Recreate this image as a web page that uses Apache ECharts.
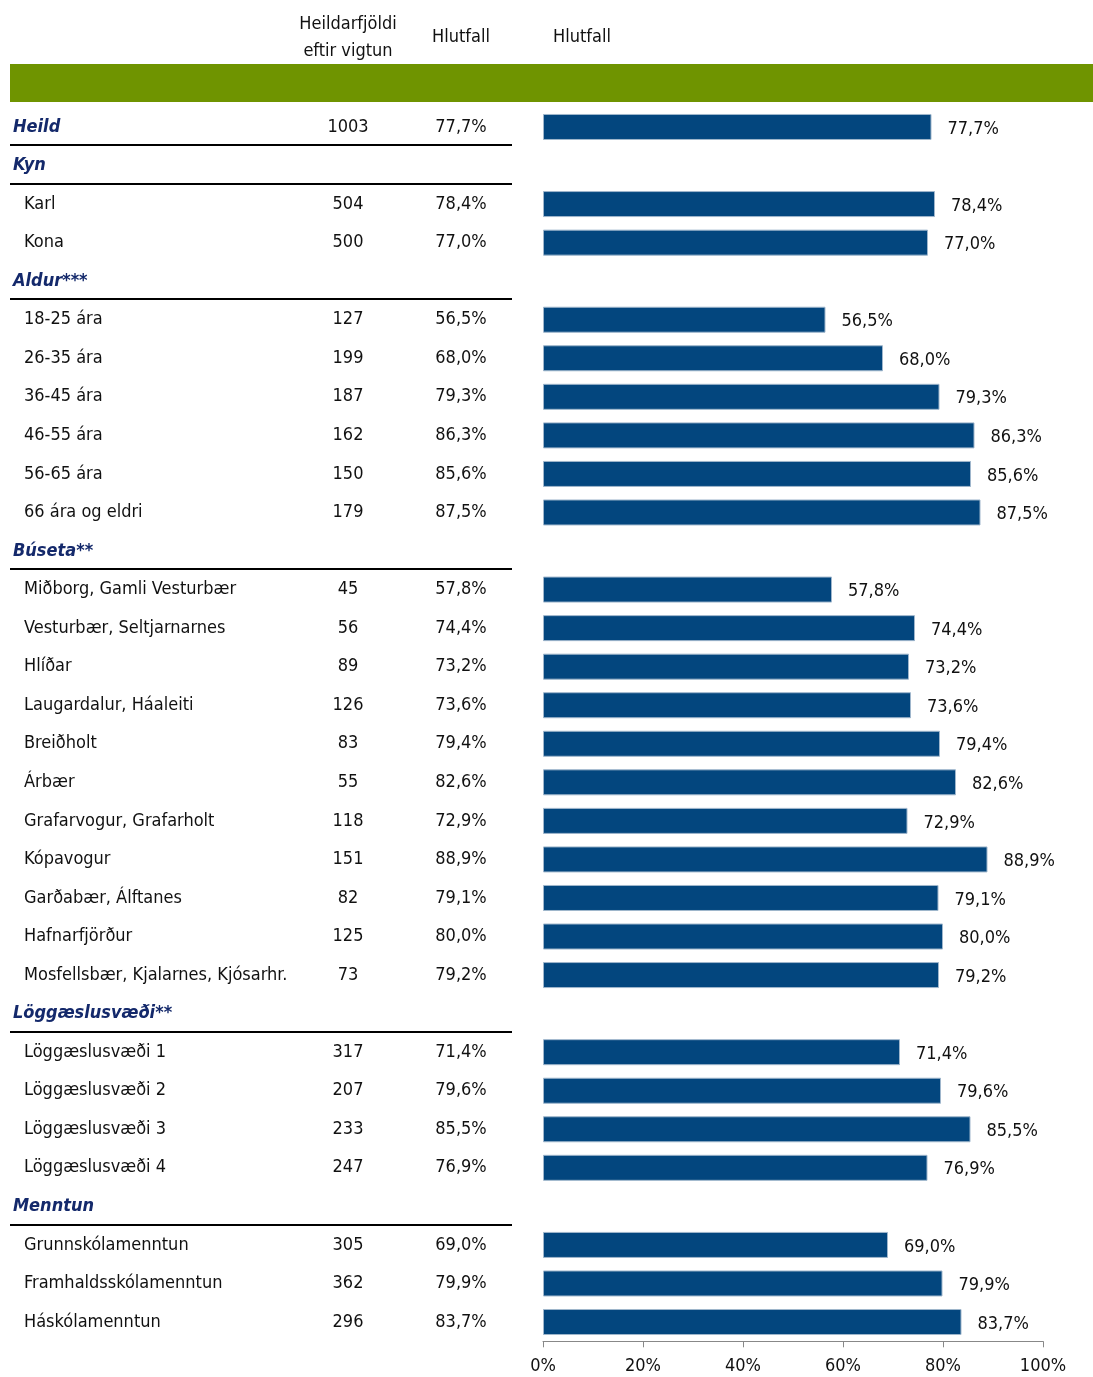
<!DOCTYPE html>
<html>
<head>
<meta charset="utf-8">
<script src="https://cdn.jsdelivr.net/npm/echarts@6/dist/echarts.min.js"></script>
<style>
  html, body { margin: 0; padding: 0; background: #fff; }
  #chart { width: 1093px; height: 1377px; }
</style>
</head>
<body>
<div id="chart"></div>
<script>
// raðir töflunnar (fyrirsagnir og undirflokkar)
var rowLabels = ['Heild', 'Kyn', 'Karl', 'Kona', 'Aldur***',
    '18-25 ára', '26-35 ára', '36-45 ára', '46-55 ára', '56-65 ára', '66 ára og eldri',
    'Búseta**',
    'Miðborg, Gamli Vesturbær', 'Vesturbær, Seltjarnarnes', 'Hlíðar', 'Laugardalur, Háaleiti',
    'Breiðholt', 'Árbær', 'Grafarvogur, Grafarholt', 'Kópavogur', 'Garðabær, Álftanes',
    'Hafnarfjörður', 'Mosfellsbær, Kjalarnes, Kjósarhr.',
    'Löggæslusvæði**',
    'Löggæslusvæði 1', 'Löggæslusvæði 2', 'Löggæslusvæði 3', 'Löggæslusvæði 4',
    'Menntun',
    'Grunnskólamenntun', 'Framhaldsskólamenntun', 'Háskólamenntun'];

var headerRows = ['Heild', 'Kyn', 'Aldur***', 'Búseta**', 'Löggæslusvæði**', 'Menntun'];

var counts = [1003, null, 504, 500, null,
    127, 199, 187, 162, 150, 179,
    null,
    45, 56, 89, 126, 83, 55, 118, 151, 82, 125, 73,
    null,
    317, 207, 233, 247,
    null,
    305, 362, 296];

var shares = [77.7, null, 78.4, 77.0, null,
    56.5, 68.0, 79.3, 86.3, 85.6, 87.5,
    null,
    57.8, 74.4, 73.2, 73.6, 79.4, 82.6, 72.9, 88.9, 79.1, 80.0, 79.2,
    null,
    71.4, 79.6, 85.5, 76.9,
    null,
    69.0, 79.9, 83.7];

var FONT = "'Liberation Sans Narrow', 'DejaVu Sans Condensed', 'Liberation Sans', sans-serif";

function pct(v) {
    return v.toFixed(1).replace('.', ',') + '%';
}

var chart = echarts.init(document.getElementById('chart'));

var option = {
    backgroundColor: '#fff',
    animation: false,
    textStyle: { fontFamily: FONT },
    graphic: [
        // græna röndin
        { type: 'rect', left: 10, top: 64, shape: { width: 1083, height: 38 }, style: { fill: '#6f9400' } },
        { type: 'text', x: 348, y: 24, style: { text: 'Heildarfjöldi', font: '18px ' + FONT, fill: '#111', align: 'center', verticalAlign: 'middle' } },
        { type: 'text', x: 348, y: 51, style: { text: 'eftir vigtun', font: '18px ' + FONT, fill: '#111', align: 'center', verticalAlign: 'middle' } },
        { type: 'text', x: 461, y: 37, style: { text: 'Hlutfall', font: '18px ' + FONT, fill: '#111', align: 'center', verticalAlign: 'middle' } },
        { type: 'text', x: 582, y: 37, style: { text: 'Hlutfall', font: '18px ' + FONT, fill: '#111', align: 'center', verticalAlign: 'middle' } }
    ],
    grid: { left: 543, right: 50, top: 107.7, bottom: 35.7, containLabel: false },
    xAxis: {
        type: 'value',
        min: 0,
        max: 100,
        interval: 20,
        axisLine: { show: true, lineStyle: { color: '#888', width: 1 } },
        axisTick: { show: true, inside: false, length: 6, lineStyle: { color: '#888' } },
        splitLine: { show: false },
        axisLabel: {
            color: '#111', fontSize: 18, fontFamily: FONT, margin: 16,
            formatter: function(v) { return v + '%'; }
        }
    },
    yAxis: {
        type: 'category',
        inverse: true,
        data: rowLabels,
        axisLine: { show: false },
        axisTick: { show: false },
        axisLabel: {
            align: 'left',
            margin: 530,
            interval: 0,
            formatter: function(val, idx) {
                var isHead = headerRows.indexOf(val) >= 0;
                var s = isHead ? '{h|' + val + '}' : '{ind|}{name|' + val + '}';
                if (counts[idx] != null) {
                    s += '{n|' + counts[idx] + '}{p|' + pct(shares[idx]) + '}';
                }
                return s;
            },
            rich: {
                h: { width: 285, fontSize: 18, fontFamily: FONT, fontWeight: 'bold', fontStyle: 'italic', color: '#14296b', align: 'left' },
                ind: { width: 11 },
                name: { width: 274, fontSize: 18, fontFamily: FONT, color: '#111', align: 'left' },
                n: { width: 100, fontSize: 18, fontFamily: FONT, color: '#111', align: 'center' },
                p: { width: 126, fontSize: 18, fontFamily: FONT, color: '#111', align: 'center' }
            }
        }
    },
    series: [
        {
            type: 'bar',
            data: shares,
            barWidth: 26,
            itemStyle: { color: '#03467e', borderColor: '#9fb6cc', borderWidth: 1 },
            label: {
                show: true,
                position: 'right',
                distance: 16,
                color: '#111',
                fontSize: 18,
                fontFamily: FONT,
                offset: [0, 2],
                formatter: function(p) { return pct(p.value); }
            }
        },
        {
            // svartar línur undir fyrirsögnum
            type: 'custom',
            clip: false,
            silent: true,
            data: headerRows.map(function(h) { return [0, rowLabels.indexOf(h)]; }),
            renderItem: function(params, api) {
                var pt = api.coord([0, api.value(1)]);
                var band = api.size([0, 1])[1];
                var y = Math.round(pt[1] + band / 2) - 1;
                return {
                    type: 'line',
                    shape: { x1: 10, y1: y, x2: 512, y2: y },
                    style: { stroke: '#000', lineWidth: 2 }
                };
            }
        }
    ]
};

chart.setOption(option);
</script>
</body>
</html>
